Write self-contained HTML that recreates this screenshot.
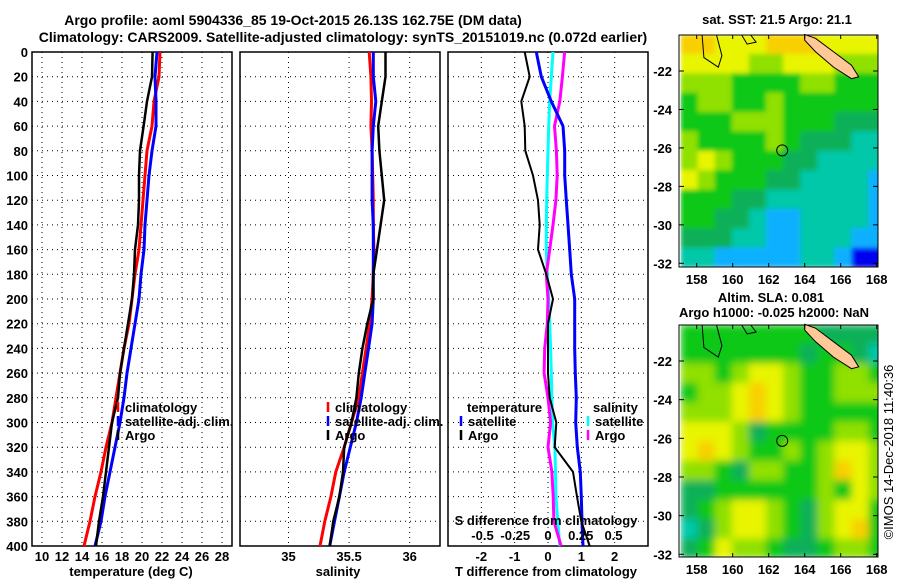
<!DOCTYPE html>
<html><head><meta charset="utf-8"><style>
body{margin:0;background:#fff;}
svg{display:block;font-family:"Liberation Sans",sans-serif;font-weight:bold;}
</style></head><body>
<svg id="c" width="900" height="580">
<defs>
<filter id="blur" x="0" y="0" width="1" height="1"><feGaussianBlur stdDeviation="4" edgeMode="duplicate"/></filter>
<filter id="blur2" x="0" y="0" width="1" height="1"><feGaussianBlur stdDeviation="2.5" edgeMode="duplicate"/></filter>
<clipPath id="clip1"><rect x="679" y="35" width="199" height="232"/></clipPath>
<clipPath id="clip2"><rect x="679" y="325" width="199" height="232"/></clipPath>
</defs>
</svg>
<script>
// ---------- data ----------
const depths=[0,20,40,60,80,100,120,140,160,180,200,220,240,260,280,300,320,340,360,380,400];
const tempClim=[21.8,21.7,21.2,21.0,20.5,20.3,20.1,19.9,19.7,19.3,19.0,18.7,18.2,17.8,17.4,17.0,16.4,15.9,15.3,14.8,14.2];
const tempSat=[21.5,21.3,21.4,21.4,21.0,20.7,20.5,20.3,20.2,19.9,19.7,19.3,18.9,18.5,18.2,17.8,17.3,16.8,16.3,15.9,15.3];
const tempArgo=[21.06,21.0,20.5,20.16,19.8,19.7,19.7,19.6,19.3,19.2,19.0,18.6,18.2,17.8,17.6,17.0,16.7,16.4,16.1,15.7,15.4];
const salClim=[35.666,35.68,35.685,35.68,35.69,35.695,35.70,35.70,35.705,35.70,35.69,35.67,35.64,35.61,35.58,35.52,35.46,35.39,35.35,35.30,35.26];
const salSat=[35.70,35.70,35.72,35.70,35.69,35.69,35.69,35.70,35.70,35.70,35.70,35.69,35.66,35.63,35.60,35.56,35.51,35.46,35.42,35.38,35.34];
const salArgo=[35.80,35.80,35.77,35.74,35.75,35.77,35.79,35.76,35.73,35.70,35.70,35.65,35.61,35.58,35.56,35.52,35.46,35.45,35.42,35.37,35.34];
const dTArgo=[-0.70,-0.55,-0.80,-0.70,-0.68,-0.45,-0.30,-0.25,-0.30,-0.05,0.15,0.0,0.0,0.0,0.05,0.25,0.2,0.75,0.87,1.0,1.25];
const dTSat=[-0.35,-0.20,0.10,0.45,0.50,0.50,0.55,0.60,0.65,0.70,0.80,0.80,0.80,0.82,0.85,0.83,0.88,0.97,1.0,1.02,1.05];
const dSSat=[0.038,0.025,0.013,0.005,0.0,-0.005,-0.01,-0.013,-0.013,-0.005,0.005,0.013,0.02,0.025,0.03,0.035,0.053,0.057,0.06,0.075,0.09];
const dSArgo=[0.127,0.11,0.09,0.05,0.064,0.07,0.06,0.038,0.013,-0.013,0.0,-0.005,-0.025,-0.03,0.0,0.02,0.0,0.03,0.04,0.045,0.1];
const depthTicks=[0,20,40,60,80,100,120,140,160,180,200,220,240,260,280,300,320,340,360,380,400];
const tTicks=[10,12,14,16,18,20,22,24,26,28];
const sTicks=[35,35.5,36];
const dTTicks=[-2,-1,0,1,2];
const dSTicks=[-0.5,-0.25,0,0.25,0.5];
const lonTicks=[158,160,162,164,166,168];
const latTicks=[-22,-24,-26,-28,-30,-32];
const sstGrid=[
[7,7,6,6,6,7,7,7,6,6,6,6],[6,6,6,6,5,5,6,6,6,5,5,5],[5,5,5,4,4,4,4,5,5,4,4,4],
[4,5,5,4,4,5,4,4,4,4,4,4],[4,4,4,5,5,5,4,4,4,3,3,3],[5,4,4,4,4,5,4,3,3,3,2,2],
[5,6,5,4,4,4,3,3,2,2,2,2],[6,5,4,4,4,3,3,2,2,2,2,1],[4,4,4,3,3,2,2,2,2,2,2,1],
[4,4,3,3,2,1,1,2,2,2,2,1],[3,3,3,2,2,1,1,2,2,2,1,1],[2,2,1,1,1,1,1,2,2,1,0,0]];
const slaGrid=[
[4,4,4,4,4,4,4,4,3,3,3,3],[4,4,4,4,4,4,4,3,4,4,3,2],[5,5,4,5,6,6,5,4,4,5,5,4],
[4,5,5,6,7,6,5,4,4,5,5,5],[5,5,5,6,7,6,5,4,4,4,4,4],[6,6,6,5,3,4,4,4,4,5,5,4],
[6,7,6,5,4,4,5,4,5,6,6,5],[5,5,4,3,5,5,4,4,5,7,6,5],[3,3,4,4,4,4,4,4,5,4,6,5],
[3,4,5,6,6,5,4,3,5,6,6,4],[2,3,5,6,6,5,4,3,5,6,7,4],[3,4,6,5,5,4,3,3,4,5,5,4]];
const palette=["#0000f0","#10b0ff","#00c8a8","#10b058","#10c818","#90e000","#e8f400","#f8d000"];
// ---------- helpers ----------
const NS="http://www.w3.org/2000/svg";
const svg=document.getElementById('c');
function el(t,a,p){const e=document.createElementNS(NS,t);for(const k in a)e.setAttribute(k,a[k]);(p||svg).appendChild(e);return e;}
function txt(s,x,y,anchor,size,p){const e=el('text',{x:x,y:y,'text-anchor':anchor||'middle','font-size':size||13},p);e.textContent=s;return e;}
const Y0=52,Y1=546;
const yD=d=>Y0+(d/400)*(Y1-Y0);
function lin(d0,d1,p0,p1){return v=>p0+(v-d0)/(d1-d0)*(p1-p0);}
function panel(name,x0,x1,xs,ticks,fmt){
  const g=el('g',{});
  
  
  depthTicks.forEach(d=>{if(d>0&&d<400)el('line',{x1:x0,x2:x1,y1:yD(d),y2:yD(d),stroke:'#000','stroke-dasharray':'1,4','stroke-width':1},g);});
  ticks.forEach(t=>{el('line',{x1:xs(t),x2:xs(t),y1:Y0,y2:Y1,stroke:'#000','stroke-dasharray':'1,4','stroke-width':1},g);
    if(fmt)txt(fmt(t),xs(t),561,'middle',13,g);});
  el('rect',{x:x0,y:Y0,width:x1-x0,height:Y1-Y0,fill:'none',stroke:'#000','stroke-width':1.5},g);
  return g;
}
function series(name,xs,vals,color,w,g){
  const pts=vals.map((v,i)=>xs(v).toFixed(1)+','+yD(depths[i]).toFixed(1)).join(' ');
  const e=el('polyline',{points:pts,fill:'none',stroke:color,'stroke-width':w},g);
  
  
}
// title
const t1=txt('Argo profile: aoml 5904336_85 19-Oct-2015 26.13S 162.75E (DM data)',293,25,'middle',14);

const t2=txt('Climatology: CARS2009. Satellite-adjusted climatology: synTS_20151019.nc (0.072d earlier)',343,42,'middle',14);

// depth labels
depthTicks.forEach(d=>{const e=txt(String(d),28,yD(d)+5,'end',13);});
// panel 1
const xT=lin(9,29,32,232);
const g1=panel('temperature-panel',32,232,xT,tTicks,String);
series('temp-climatology',xT,tempClim,'#ff0000',3,g1);
series('temp-satellite-adj',xT,tempSat,'#0000ff',3,g1);
series('temp-argo',xT,tempArgo,'#000000',2.5,g1);
txt('temperature (deg C)',131,576,'middle',13);
function legend(x,y,items,g){items.forEach((it,i)=>{el('line',{x1:x,x2:x,y1:y+i*14-10,y2:y+i*14,stroke:it[1],'stroke-width':2.5},g);const e=txt(it[0],x+7,y+i*14,'start',13,g);});}
legend(118,412,[['climatology','#ff0000'],['satellite-adj. clim.','#0000ff'],['Argo','#000']],g1);
// panel 2
const xS=lin(34.6,36.25,240,440);
const g2=panel('salinity-panel',240,440,xS,sTicks,String);
series('sal-climatology',xS,salClim,'#ff0000',3,g2);
series('sal-satellite-adj',xS,salSat,'#0000ff',3,g2);
series('sal-argo',xS,salArgo,'#000000',2.5,g2);
txt('salinity',338,576,'middle',13);
legend(328,412,[['climatology','#ff0000'],['satellite-adj. clim.','#0000ff'],['Argo','#000']],g2);
// panel 3
const xdT=lin(-3,3,448,648);
const xdS=v=>548+v*131;
const g3=panel('difference-panel',448,648,xdT,dTTicks,String);
series('dS-satellite',xdS,dSSat,'#00ffff',3,g3);
series('dS-argo',xdS,dSArgo,'#ff00ff',3,g3);
series('dT-satellite',xdT,dTSat,'#0000ff',3,g3);
series('dT-argo',xdT,dTArgo,'#000000',2,g3);
txt('T difference from climatology',546,576,'middle',13);
txt('temperature',467,412,'start',13,g3);
legend(461,426,[['satellite','#0000ff'],['Argo','#000']],g3);
txt('salinity',593,412,'start',13,g3);
legend(588,426,[['satellite','#00ffff'],['Argo','#ff00ff']],g3);
txt('S difference from climatology',546,525,'middle',13,g3);
dSTicks.forEach(t=>{txt(String(t),xdS(t),540,'middle',13,g3);});
// maps
const xLon=lin(158,168,696.7,876.7);
function map(name,grid,yTop,yBot,latY,titleLines,clip,filt){
  const g=el('g',{});
  
  
  const yL=lin(-22,-32,latY[0],latY[1]);
  const lon0=157.1,lon1=168.5,lat0=-20.1,lat1=-32.2;
  const nr=grid.length,nc=grid[0].length;
  const cg=el('g',{'clip-path':'url(#'+clip+')'},g);
  const fg=el('g',{filter:'url(#'+filt+')'},cg);
  grid.forEach((row,r)=>row.forEach((v,c)=>{
    const xa=xLon(lon0+(lon1-lon0)*c/nc),xb=xLon(lon0+(lon1-lon0)*(c+1)/nc);
    const ya=yL(lat0+(lat1-lat0)*r/nr),yb=yL(lat0+(lat1-lat0)*(r+1)/nr);
    const cell=el('rect',{x:xa,y:ya,width:xb-xa+0.5,height:yb-ya+0.5,fill:palette[v]},fg);
    
    
  }));
  const nc2=[[164.0,-20.1],[164.6,-20.3],[165.6,-21.0],[166.6,-21.7],[167.0,-22.3],[166.6,-22.4],[165.6,-21.8],[164.6,-21.0],[164.0,-20.4]];
  const isl=el('polygon',{points:nc2.map(p=>xLon(p[0])+','+yL(p[1])).join(' '),fill:'#ffc896',stroke:'#000','stroke-width':1},g);
  
  el('path',{d:`M${xLon(158.3)},${yTop} L${xLon(158.4)},${yL(-21.3)} L${xLon(159.2)},${yL(-21.8)} L${xLon(159.4)},${yL(-21.2)} L${xLon(159.1)},${yTop}`,fill:'none',stroke:'#000','stroke-width':1},g);
  el('path',{d:`M${xLon(160.5)},${yTop} L${xLon(160.8)},${yL(-20.6)} L${xLon(161.3)},${yL(-20.5)} L${xLon(161.0)},${yTop}`,fill:'none',stroke:'#000','stroke-width':1},g);
  el('circle',{cx:xLon(162.75),cy:yL(-26.13),r:5.5,fill:'none',stroke:'#000','stroke-width':1},g);
  el('rect',{x:679,y:yTop,width:199,height:yBot-yTop,fill:'none',stroke:'#000','stroke-width':1},g);
  latTicks.forEach(l=>{txt(String(l),672,yL(l)+5,'end',13,g);el('line',{x1:679,x2:684,y1:yL(l),y2:yL(l),stroke:'#000'},g);el('line',{x1:873,x2:878,y1:yL(l),y2:yL(l),stroke:'#000'},g);});
  lonTicks.forEach(l=>{txt(String(l),xLon(l),yBot+17,'middle',13,g);el('line',{x1:xLon(l),x2:xLon(l),y1:yTop,y2:yTop+4,stroke:'#000'},g);el('line',{x1:xLon(l),x2:xLon(l),y1:yBot-4,y2:yBot,stroke:'#000'},g);});
  titleLines.forEach(t=>txt(t[0],t[1],t[2],'middle',13,g));
}
map('sst-map',sstGrid,35,267,[71,263.3],[['sat. SST: 21.5 Argo: 21.1',777,24]],'clip1','blur2');
map('sla-map',slaGrid,325,557,[361,554.3],[['Altim. SLA: 0.081',771,302],['Argo h1000: -0.025 h2000: NaN',774,317]],'clip2','blur');
const stamp=txt('©IMOS 14-Dec-2018 11:40:36',0,0,'middle',13);
stamp.setAttribute('transform','translate(893,452) rotate(-90)');
stamp.setAttribute('font-weight','normal');

</script>
</body></html>
